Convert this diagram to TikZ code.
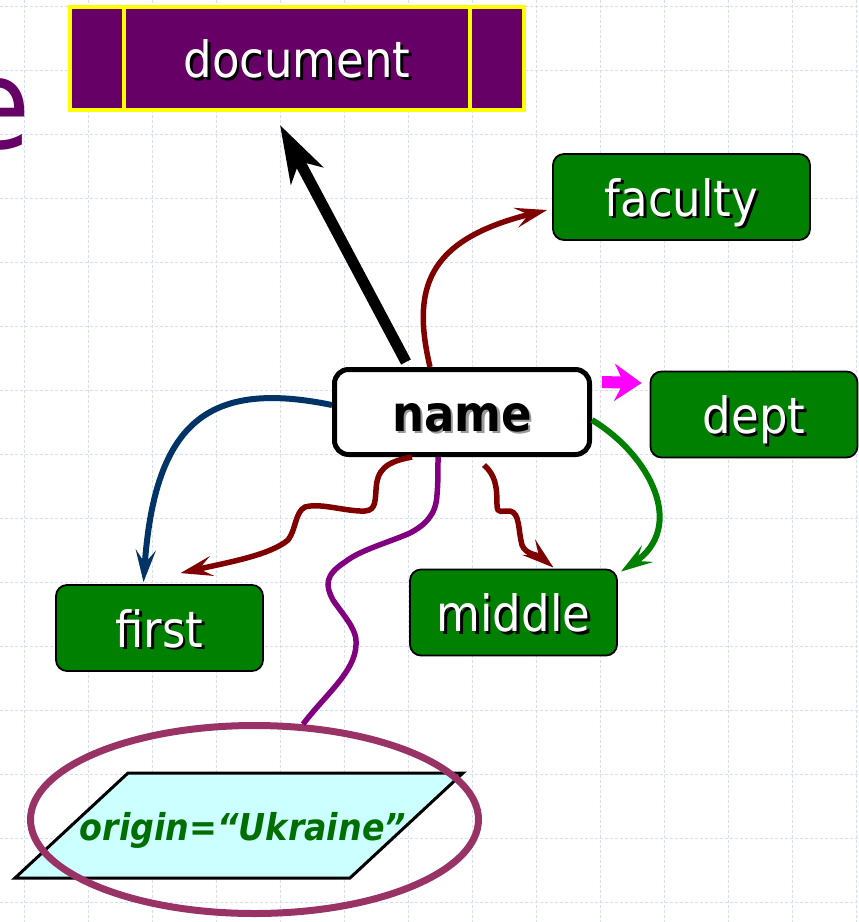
\documentclass[tikz,border=0pt]{standalone}
\usepackage{fontspec}
\setmainfont{DejaVu Sans Condensed}
\usetikzlibrary{arrows.meta,shapes.geometric}

\definecolor{docpurple}{RGB}{102,0,102}
\definecolor{docyellow}{RGB}{255,255,0}
\definecolor{boxgreen}{RGB}{0,128,0}
\definecolor{gridblue}{RGB}{214,222,245}
\definecolor{linkred}{RGB}{128,0,0}
\definecolor{linknavy}{RGB}{0,51,102}
\definecolor{linkpurple}{RGB}{128,0,128}
\definecolor{linkgreen}{RGB}{0,128,0}
\definecolor{linkmagenta}{RGB}{255,0,255}
\definecolor{ringcolor}{RGB}{153,51,102}
\definecolor{paracyan}{RGB}{204,255,255}
\definecolor{valgreen}{RGB}{0,110,0}

% text with a drop shadow: #1 text colour, #2 shadow colour, #3 text
\newcommand{\shadowtext}[3]{\rlap{\kern2.5pt\raisebox{-2.5pt}{\color{#2}#3}}{\color{#1}#3}}

\begin{document}
\begin{tikzpicture}[x=1pt,y=-1pt,
  gridline/.style={gridblue, line width=1pt, dash pattern=on 3pt off 2pt},
  entity/.style={draw=black, line width=1.8pt, fill=boxgreen, rounded corners=11pt,
    inner sep=0pt, minimum width=207pt, minimum height=86pt,
    text height=38pt, text depth=0pt, font=\fontsize{50}{50}\selectfont},
  docbox/.style={draw=docyellow, line width=4pt, fill=docpurple, inner sep=0pt,
    minimum width=454pt, minimum height=103pt,
    text height=38pt, text depth=0pt, font=\fontsize{50}{50}\selectfont},
  focusbox/.style={draw=black, line width=5pt, fill=white, rounded corners=14pt,
    inner sep=0pt, minimum width=255pt, minimum height=85pt,
    text height=38pt, text depth=0pt, font=\bfseries\fontsize{50}{50}\selectfont},
  smalltip/.style={-{Stealth[length=32pt,width=20pt,inset=13pt]}},
  redlink/.style={smalltip, linkred, line width=5.5pt},
  navylink/.style={smalltip, linknavy, line width=6pt},
  greenlink/.style={smalltip, linkgreen, line width=6pt},
  purplelink/.style={linkpurple, line width=5.5pt},
  blacklink/.style={-{Stealth[length=57pt,width=36pt,inset=16pt]}, black, line width=11pt},
  magentalink/.style={-{Stealth[length=27pt,width=37pt,inset=9pt]}, linkmagenta, line width=12pt}]

\useasboundingbox (0,0) rectangle (859,922);
\clip (0,0) rectangle (859,922);

% background grid
\foreach \i in {0,...,13} \draw[gridline] (24+64*\i,0) -- (24+64*\i,922);
\foreach \j in {0,...,14} \draw[gridline] (0,6+64*\j) -- (859,6+64*\j);

% last letter of the slide title
\node[anchor=base east, inner sep=0pt, text=docpurple,
  font=\fontsize{125}{125}\selectfont] (title) at (31,148) {e};

% root element
\node[docbox] (document) at (297,58.5) {\shadowtext{white}{black}{document}};
\draw[docyellow, line width=4pt] ([xshift=56pt]document.north west) -- ([xshift=56pt]document.south west);
\draw[docyellow, line width=4pt] ([xshift=-56pt]document.north east) -- ([xshift=-56pt]document.south east);

% context node and its neighbours
\node[focusbox] (name) at (462,412) {\shadowtext{black}{black!40}{name}};
\node[entity, minimum width=257pt] (faculty) at (681.5,197) {\shadowtext{white}{black}{faculty}};
\node[entity] (dept) at (754,414.5) {\shadowtext{white}{black}{dept}};
\node[entity] (first) at (159.5,628) {\shadowtext{white}{black}{first}};
\node[entity] (middle) at (513.5,612.5) {\shadowtext{white}{black}{middle}};

% attribute test
\draw[fill=paracyan, draw=black, line width=3pt] (128,773) -- (463,773) -- (350,878) -- (15,878) -- cycle;
\node[inner sep=0pt, text height=27pt, text depth=0pt, text=valgreen,
  font=\bfseries\itshape\fontsize{37}{37}\selectfont] (origin) at (243,826.5) {origin=“Ukraine”};

% axes
\draw[blacklink] ([xshift=-56pt,yshift=5pt]name.north) -- ([xshift=-17pt,yshift=-13pt]document.south);
\draw[redlink] ([xshift=-32pt]name.north) .. controls (412,290) and (425,240) .. ([xshift=-5pt,yshift=-13pt]faculty.west);
\draw[magentalink] ([xshift=10pt,yshift=30pt]name.east) -- ([xshift=-8pt,yshift=31.5pt]dept.west);
\draw[navylink] ([yshift=7pt]name.west) .. controls (210,380) and (155,420) .. ([xshift=-16pt,yshift=2pt]first.north);
\draw[redlink] ([xshift=-50pt]name.south)
  .. controls (385,462) and (377,470) .. (376,490)
  .. controls (375,505) and (375,512) .. (360,511)
  .. controls (340,510) and (320,503) .. (305,507)
  .. controls (295,512) and (296,530) .. (288,540)
  .. controls (270,555) and (230,562) .. ([xshift=21pt,yshift=11pt]first.north);
\draw[redlink] ([xshift=22pt,yshift=-8pt]name.south)
  .. controls (495,475) and (497,485) .. (497,505)
  .. controls (497,515) and (503,510) .. (510,511)
  .. controls (520,513) and (518,530) .. (522,545)
  .. controls (526,555) and (537,554) .. ([xshift=40pt,yshift=1pt]middle.north);
\draw[greenlink] ([yshift=-8pt]name.east) .. controls (650,455) and (687,527) .. ([xshift=3pt,yshift=-3pt]middle.north east);

% highlight ring around the test
\node[ellipse, draw=ringcolor, line width=7pt, inner sep=0pt,
  minimum width=448pt, minimum height=188pt] (ring) at (254.5,819.5) {};
\draw[purplelink] ([xshift=-24pt]name.south)
  .. controls (438,470) and (438,485) .. (437,495)
  .. controls (436,515) and (425,525) .. (410,533)
  .. controls (390,542) and (360,550) .. (345,562)
  .. controls (325,575) and (325,585) .. (333,600)
  .. controls (343,615) and (358,630) .. (356,645)
  .. controls (355,672) and (325,695) .. (ring.63.7);
\end{tikzpicture}
\end{document}
